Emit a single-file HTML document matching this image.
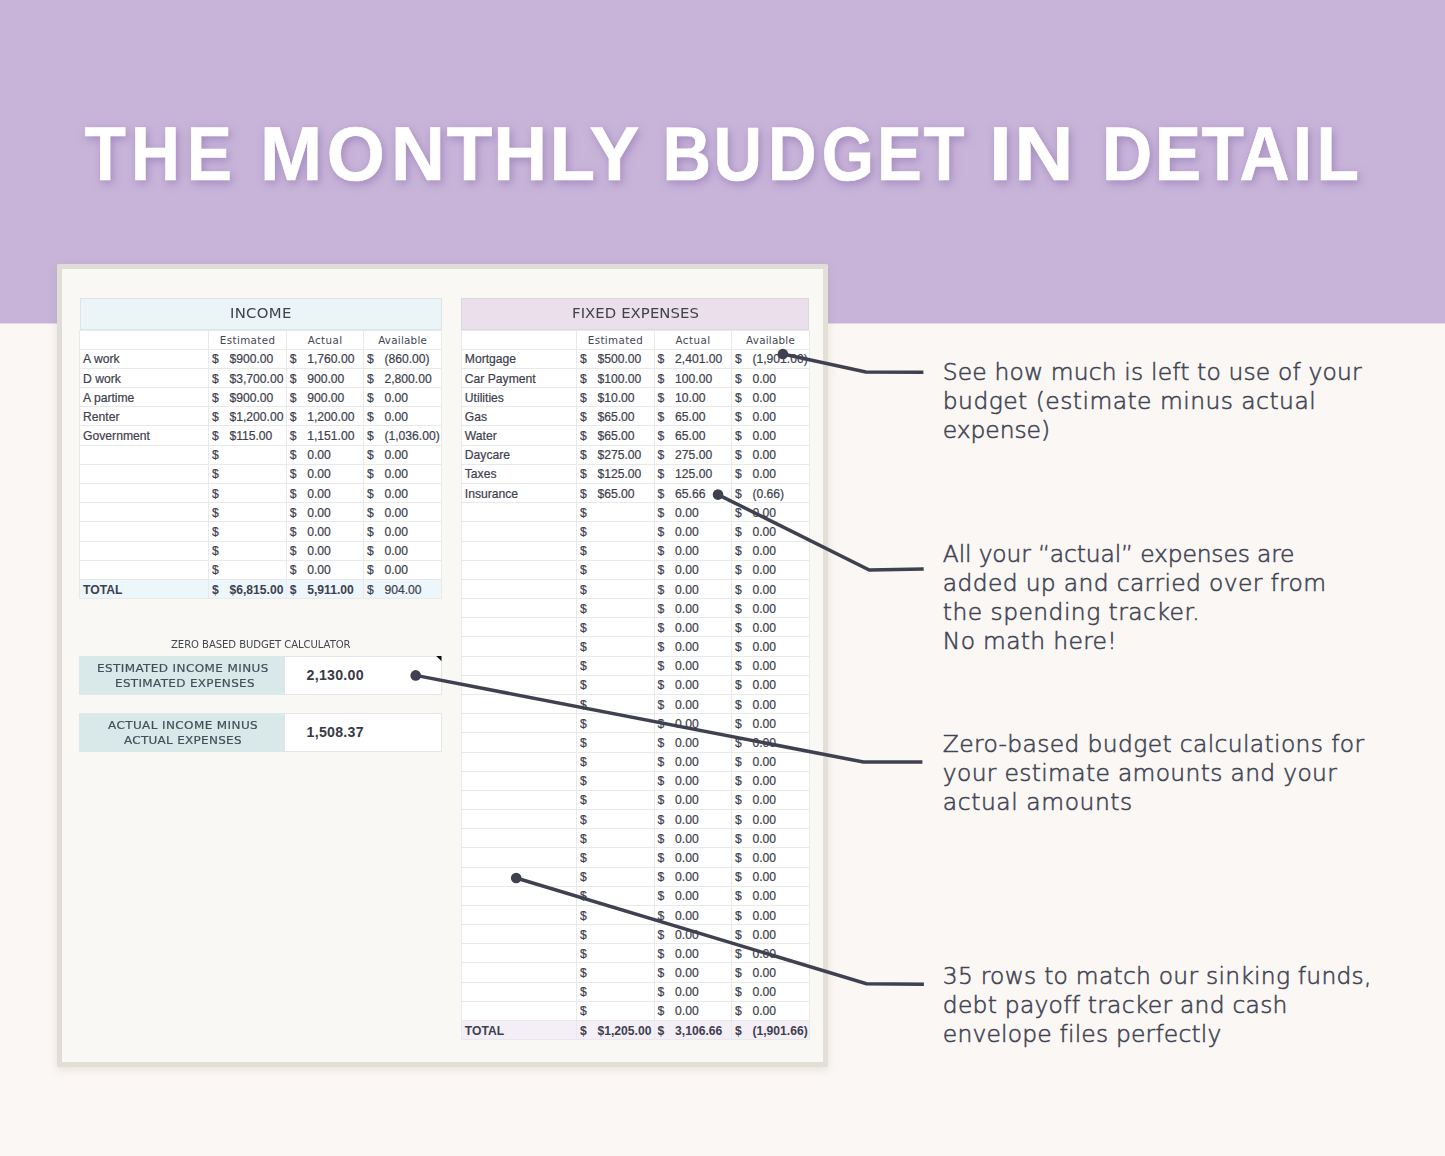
<!DOCTYPE html>
<html lang="en"><head><meta charset="utf-8"><title>The Monthly Budget in Detail</title>
<style>
html,body{margin:0;padding:0}
body{width:1445px;height:1156px;position:relative;overflow:hidden;background:#fbf7f4;font-family:"Liberation Sans",Arial,sans-serif}
h1{margin:0;padding:0;font-size:inherit;font-weight:inherit}
.r{position:absolute;display:block}
.t{position:absolute;white-space:pre;line-height:1em;margin:0;padding:0}
.c{font-size:12.15px;color:#3e404e;-webkit-text-stroke:0.2px #3e404e}
.cb{font-size:12.15px;color:#3e404e;font-weight:700}
.dv{font-family:"DejaVu Sans","Liberation Sans",sans-serif}
.n{font-size:23.4px;color:#414453;font-weight:200;-webkit-text-stroke:0.55px #414453}
.ttl{filter:drop-shadow(2px 3px 4px rgba(125,95,165,.5))}
.ttl text{font-family:"Liberation Sans",Arial,sans-serif}
.card{box-sizing:border-box;background:#f9f8f4;border:solid #e0ddd6;border-width:5.4px 5.8px 5px 5.5px;border-right-color:#e3e0d8;border-bottom-color:#e1ded6;border-radius:2px;box-shadow:0 3px 10px rgba(120,110,90,.15)}
</style></head><body>
<header class="hero">
<div class="r" style="left:0.00px;top:0.00px;width:1445.00px;height:323.00px;background:#c8b4d9;"></div>
<div class="r" style="left:0.00px;top:323.00px;width:1445.00px;height:1.00px;background:#e2d6e7;"></div>
<h1>
<svg class="r ttl" style="left:0;top:0" width="1445" height="260" viewBox="0 0 1445 260">
<text transform="scale(0.8912,1)" x="94.87 147.06 209.58" y="180.1" font-size="76.0" font-weight="700" fill="#fff" stroke="#fff" stroke-width="0.7">THE</text>
<text transform="scale(0.9822,1)" x="264.68 332.63 398.01 454.84 502.11 559.57 600.26" y="180.1" font-size="76.0" font-weight="700" fill="#fff" stroke="#fff" stroke-width="0.7">MONTHLY</text>
<text transform="scale(0.8842,1)" x="749.30 807.04 868.71 929.36 991.77 1044.42" y="180.1" font-size="76.0" font-weight="700" fill="#fff" stroke="#fff" stroke-width="0.7">BUDGET</text>
<text transform="scale(1.0804,1)" x="915.43 938.69" y="180.1" font-size="76.0" font-weight="700" fill="#fff" stroke="#fff" stroke-width="0.7">IN</text>
<text transform="scale(0.9147,1)" x="1204.85 1262.48 1313.49 1355.03 1413.35 1439.28" y="180.1" font-size="76.0" font-weight="700" fill="#fff" stroke="#fff" stroke-width="0.7">DETAIL</text>
</svg>
</h1>
</header>
<main class="sheet">
<div class="r card" style="left:56.5px;top:264.0px;width:771.5px;height:803px;"></div>
<section class="tbl income">
<div class="r" style="left:79.50px;top:298.00px;width:362.00px;height:32.00px;background:#ebf4f7;box-shadow:0 0 0 1px rgba(190,200,205,.35) inset;"></div>
<div class="r" style="left:79.50px;top:330.10px;width:362.00px;height:249.31px;background:#ffffff;"></div>
<div class="r" style="left:79.50px;top:579.41px;width:362.00px;height:19.18px;background:#edf6fa;"></div>
<div class="r" style="left:79.50px;top:329.60px;width:362.00px;height:1.00px;background:#e9e9e9;"></div>
<div class="r" style="left:79.50px;top:348.78px;width:362.00px;height:1.00px;background:#e9e9e9;"></div>
<div class="r" style="left:79.50px;top:367.96px;width:362.00px;height:1.00px;background:#e9e9e9;"></div>
<div class="r" style="left:79.50px;top:387.13px;width:362.00px;height:1.00px;background:#e9e9e9;"></div>
<div class="r" style="left:79.50px;top:406.31px;width:362.00px;height:1.00px;background:#e9e9e9;"></div>
<div class="r" style="left:79.50px;top:425.49px;width:362.00px;height:1.00px;background:#e9e9e9;"></div>
<div class="r" style="left:79.50px;top:444.67px;width:362.00px;height:1.00px;background:#e9e9e9;"></div>
<div class="r" style="left:79.50px;top:463.85px;width:362.00px;height:1.00px;background:#e9e9e9;"></div>
<div class="r" style="left:79.50px;top:483.02px;width:362.00px;height:1.00px;background:#e9e9e9;"></div>
<div class="r" style="left:79.50px;top:502.20px;width:362.00px;height:1.00px;background:#e9e9e9;"></div>
<div class="r" style="left:79.50px;top:521.38px;width:362.00px;height:1.00px;background:#e9e9e9;"></div>
<div class="r" style="left:79.50px;top:540.56px;width:362.00px;height:1.00px;background:#e9e9e9;"></div>
<div class="r" style="left:79.50px;top:559.74px;width:362.00px;height:1.00px;background:#e9e9e9;"></div>
<div class="r" style="left:79.50px;top:578.91px;width:362.00px;height:1.00px;background:#e9e9e9;"></div>
<div class="r" style="left:79.50px;top:598.09px;width:362.00px;height:1.00px;background:#e9e9e9;"></div>
<div class="r" style="left:79.00px;top:330.10px;width:1.00px;height:268.49px;background:#e9e9e9;"></div>
<div class="r" style="left:208.00px;top:330.10px;width:1.00px;height:268.49px;background:#e9e9e9;"></div>
<div class="r" style="left:285.80px;top:330.10px;width:1.00px;height:268.49px;background:#e9e9e9;"></div>
<div class="r" style="left:363.00px;top:330.10px;width:1.00px;height:268.49px;background:#e9e9e9;"></div>
<div class="r" style="left:441.00px;top:330.10px;width:1.00px;height:268.49px;background:#e9e9e9;"></div>
<div class="t dv" id="t0" style="top:306.99px;font-size:13.9px;color:#41424f;letter-spacing:0.280px;transform:scaleX(1.07);transform-origin:0 0;left:229.85px;">INCOME</div>
<div class="t dv" id="t1" style="top:335.29px;font-size:10.3px;color:#444652;letter-spacing:0.384px;left:219.85px;">Estimated</div>
<div class="t dv" id="t2" style="top:335.29px;font-size:10.3px;color:#444652;letter-spacing:0.447px;left:307.65px;">Actual</div>
<div class="t dv" id="t3" style="top:335.29px;font-size:10.3px;color:#444652;letter-spacing:0.261px;left:378.15px;">Available</div>
<div class="t c" id="t4" style="top:353.39px;left:83.10px;">A work</div>
<div class="t c" id="t5" style="top:353.39px;left:211.90px;">$</div>
<div class="t c" id="t6" style="top:353.39px;left:229.40px;">$900.00</div>
<div class="t c" id="t7" style="top:353.39px;left:289.70px;">$</div>
<div class="t c" id="t8" style="top:353.39px;left:307.20px;">1,760.00</div>
<div class="t c" id="t9" style="top:353.39px;left:366.90px;">$</div>
<div class="t c" id="t10" style="top:353.39px;left:384.40px;">(860.00)</div>
<div class="t c" id="t11" style="top:372.57px;left:83.10px;">D work</div>
<div class="t c" id="t12" style="top:372.57px;left:211.90px;">$</div>
<div class="t c" id="t13" style="top:372.57px;left:229.40px;">$3,700.00</div>
<div class="t c" id="t14" style="top:372.57px;left:289.70px;">$</div>
<div class="t c" id="t15" style="top:372.57px;left:307.20px;">900.00</div>
<div class="t c" id="t16" style="top:372.57px;left:366.90px;">$</div>
<div class="t c" id="t17" style="top:372.57px;left:384.40px;">2,800.00</div>
<div class="t c" id="t18" style="top:391.75px;left:83.10px;">A partime</div>
<div class="t c" id="t19" style="top:391.75px;left:211.90px;">$</div>
<div class="t c" id="t20" style="top:391.75px;left:229.40px;">$900.00</div>
<div class="t c" id="t21" style="top:391.75px;left:289.70px;">$</div>
<div class="t c" id="t22" style="top:391.75px;left:307.20px;">900.00</div>
<div class="t c" id="t23" style="top:391.75px;left:366.90px;">$</div>
<div class="t c" id="t24" style="top:391.75px;left:384.40px;">0.00</div>
<div class="t c" id="t25" style="top:410.93px;left:83.10px;">Renter</div>
<div class="t c" id="t26" style="top:410.93px;left:211.90px;">$</div>
<div class="t c" id="t27" style="top:410.93px;left:229.40px;">$1,200.00</div>
<div class="t c" id="t28" style="top:410.93px;left:289.70px;">$</div>
<div class="t c" id="t29" style="top:410.93px;left:307.20px;">1,200.00</div>
<div class="t c" id="t30" style="top:410.93px;left:366.90px;">$</div>
<div class="t c" id="t31" style="top:410.93px;left:384.40px;">0.00</div>
<div class="t c" id="t32" style="top:430.11px;left:83.10px;">Government</div>
<div class="t c" id="t33" style="top:430.11px;left:211.90px;">$</div>
<div class="t c" id="t34" style="top:430.11px;left:229.40px;">$115.00</div>
<div class="t c" id="t35" style="top:430.11px;left:289.70px;">$</div>
<div class="t c" id="t36" style="top:430.11px;left:307.20px;">1,151.00</div>
<div class="t c" id="t37" style="top:430.11px;left:366.90px;">$</div>
<div class="t c" id="t38" style="top:430.11px;left:384.40px;">(1,036.00)</div>
<div class="t c" id="t39" style="top:449.28px;left:211.90px;">$</div>
<div class="t c" id="t40" style="top:449.28px;left:289.70px;">$</div>
<div class="t c" id="t41" style="top:449.28px;left:307.20px;">0.00</div>
<div class="t c" id="t42" style="top:449.28px;left:366.90px;">$</div>
<div class="t c" id="t43" style="top:449.28px;left:384.40px;">0.00</div>
<div class="t c" id="t44" style="top:468.46px;left:211.90px;">$</div>
<div class="t c" id="t45" style="top:468.46px;left:289.70px;">$</div>
<div class="t c" id="t46" style="top:468.46px;left:307.20px;">0.00</div>
<div class="t c" id="t47" style="top:468.46px;left:366.90px;">$</div>
<div class="t c" id="t48" style="top:468.46px;left:384.40px;">0.00</div>
<div class="t c" id="t49" style="top:487.64px;left:211.90px;">$</div>
<div class="t c" id="t50" style="top:487.64px;left:289.70px;">$</div>
<div class="t c" id="t51" style="top:487.64px;left:307.20px;">0.00</div>
<div class="t c" id="t52" style="top:487.64px;left:366.90px;">$</div>
<div class="t c" id="t53" style="top:487.64px;left:384.40px;">0.00</div>
<div class="t c" id="t54" style="top:506.82px;left:211.90px;">$</div>
<div class="t c" id="t55" style="top:506.82px;left:289.70px;">$</div>
<div class="t c" id="t56" style="top:506.82px;left:307.20px;">0.00</div>
<div class="t c" id="t57" style="top:506.82px;left:366.90px;">$</div>
<div class="t c" id="t58" style="top:506.82px;left:384.40px;">0.00</div>
<div class="t c" id="t59" style="top:526.00px;left:211.90px;">$</div>
<div class="t c" id="t60" style="top:526.00px;left:289.70px;">$</div>
<div class="t c" id="t61" style="top:526.00px;left:307.20px;">0.00</div>
<div class="t c" id="t62" style="top:526.00px;left:366.90px;">$</div>
<div class="t c" id="t63" style="top:526.00px;left:384.40px;">0.00</div>
<div class="t c" id="t64" style="top:545.17px;left:211.90px;">$</div>
<div class="t c" id="t65" style="top:545.17px;left:289.70px;">$</div>
<div class="t c" id="t66" style="top:545.17px;left:307.20px;">0.00</div>
<div class="t c" id="t67" style="top:545.17px;left:366.90px;">$</div>
<div class="t c" id="t68" style="top:545.17px;left:384.40px;">0.00</div>
<div class="t c" id="t69" style="top:564.35px;left:211.90px;">$</div>
<div class="t c" id="t70" style="top:564.35px;left:289.70px;">$</div>
<div class="t c" id="t71" style="top:564.35px;left:307.20px;">0.00</div>
<div class="t c" id="t72" style="top:564.35px;left:366.90px;">$</div>
<div class="t c" id="t73" style="top:564.35px;left:384.40px;">0.00</div>
<div class="t cb" id="t74" style="top:583.53px;left:83.10px;">TOTAL</div>
<div class="t cb" id="t75" style="top:583.53px;left:211.90px;">$</div>
<div class="t cb" id="t76" style="top:583.53px;left:229.40px;">$6,815.00</div>
<div class="t cb" id="t77" style="top:583.53px;left:289.70px;">$</div>
<div class="t cb" id="t78" style="top:583.53px;left:307.20px;">5,911.00</div>
<div class="t c" id="t79" style="top:583.53px;left:366.90px;">$</div>
<div class="t c" id="t80" style="top:583.53px;left:384.40px;">904.00</div>
</section>
<section class="tbl fixed">
<div class="r" style="left:461.20px;top:298.00px;width:348.20px;height:32.00px;background:#ebdfec;box-shadow:0 0 0 1px rgba(190,200,205,.35) inset;"></div>
<div class="r" style="left:461.20px;top:330.10px;width:348.20px;height:690.41px;background:#ffffff;"></div>
<div class="r" style="left:461.20px;top:1020.51px;width:348.20px;height:19.18px;background:#f4eef6;"></div>
<div class="r" style="left:461.20px;top:329.60px;width:348.20px;height:1.00px;background:#e9e9e9;"></div>
<div class="r" style="left:461.20px;top:348.78px;width:348.20px;height:1.00px;background:#e9e9e9;"></div>
<div class="r" style="left:461.20px;top:367.96px;width:348.20px;height:1.00px;background:#e9e9e9;"></div>
<div class="r" style="left:461.20px;top:387.13px;width:348.20px;height:1.00px;background:#e9e9e9;"></div>
<div class="r" style="left:461.20px;top:406.31px;width:348.20px;height:1.00px;background:#e9e9e9;"></div>
<div class="r" style="left:461.20px;top:425.49px;width:348.20px;height:1.00px;background:#e9e9e9;"></div>
<div class="r" style="left:461.20px;top:444.67px;width:348.20px;height:1.00px;background:#e9e9e9;"></div>
<div class="r" style="left:461.20px;top:463.85px;width:348.20px;height:1.00px;background:#e9e9e9;"></div>
<div class="r" style="left:461.20px;top:483.02px;width:348.20px;height:1.00px;background:#e9e9e9;"></div>
<div class="r" style="left:461.20px;top:502.20px;width:348.20px;height:1.00px;background:#e9e9e9;"></div>
<div class="r" style="left:461.20px;top:521.38px;width:348.20px;height:1.00px;background:#e9e9e9;"></div>
<div class="r" style="left:461.20px;top:540.56px;width:348.20px;height:1.00px;background:#e9e9e9;"></div>
<div class="r" style="left:461.20px;top:559.74px;width:348.20px;height:1.00px;background:#e9e9e9;"></div>
<div class="r" style="left:461.20px;top:578.91px;width:348.20px;height:1.00px;background:#e9e9e9;"></div>
<div class="r" style="left:461.20px;top:598.09px;width:348.20px;height:1.00px;background:#e9e9e9;"></div>
<div class="r" style="left:461.20px;top:617.27px;width:348.20px;height:1.00px;background:#e9e9e9;"></div>
<div class="r" style="left:461.20px;top:636.45px;width:348.20px;height:1.00px;background:#e9e9e9;"></div>
<div class="r" style="left:461.20px;top:655.63px;width:348.20px;height:1.00px;background:#e9e9e9;"></div>
<div class="r" style="left:461.20px;top:674.80px;width:348.20px;height:1.00px;background:#e9e9e9;"></div>
<div class="r" style="left:461.20px;top:693.98px;width:348.20px;height:1.00px;background:#e9e9e9;"></div>
<div class="r" style="left:461.20px;top:713.16px;width:348.20px;height:1.00px;background:#e9e9e9;"></div>
<div class="r" style="left:461.20px;top:732.34px;width:348.20px;height:1.00px;background:#e9e9e9;"></div>
<div class="r" style="left:461.20px;top:751.52px;width:348.20px;height:1.00px;background:#e9e9e9;"></div>
<div class="r" style="left:461.20px;top:770.69px;width:348.20px;height:1.00px;background:#e9e9e9;"></div>
<div class="r" style="left:461.20px;top:789.87px;width:348.20px;height:1.00px;background:#e9e9e9;"></div>
<div class="r" style="left:461.20px;top:809.05px;width:348.20px;height:1.00px;background:#e9e9e9;"></div>
<div class="r" style="left:461.20px;top:828.23px;width:348.20px;height:1.00px;background:#e9e9e9;"></div>
<div class="r" style="left:461.20px;top:847.41px;width:348.20px;height:1.00px;background:#e9e9e9;"></div>
<div class="r" style="left:461.20px;top:866.58px;width:348.20px;height:1.00px;background:#e9e9e9;"></div>
<div class="r" style="left:461.20px;top:885.76px;width:348.20px;height:1.00px;background:#e9e9e9;"></div>
<div class="r" style="left:461.20px;top:904.94px;width:348.20px;height:1.00px;background:#e9e9e9;"></div>
<div class="r" style="left:461.20px;top:924.12px;width:348.20px;height:1.00px;background:#e9e9e9;"></div>
<div class="r" style="left:461.20px;top:943.30px;width:348.20px;height:1.00px;background:#e9e9e9;"></div>
<div class="r" style="left:461.20px;top:962.47px;width:348.20px;height:1.00px;background:#e9e9e9;"></div>
<div class="r" style="left:461.20px;top:981.65px;width:348.20px;height:1.00px;background:#e9e9e9;"></div>
<div class="r" style="left:461.20px;top:1000.83px;width:348.20px;height:1.00px;background:#e9e9e9;"></div>
<div class="r" style="left:461.20px;top:1020.01px;width:348.20px;height:1.00px;background:#e9e9e9;"></div>
<div class="r" style="left:461.20px;top:1039.19px;width:348.20px;height:1.00px;background:#e9e9e9;"></div>
<div class="r" style="left:460.70px;top:330.10px;width:1.00px;height:709.59px;background:#e9e9e9;"></div>
<div class="r" style="left:576.00px;top:330.10px;width:1.00px;height:709.59px;background:#e9e9e9;"></div>
<div class="r" style="left:653.60px;top:330.10px;width:1.00px;height:709.59px;background:#e9e9e9;"></div>
<div class="r" style="left:731.00px;top:330.10px;width:1.00px;height:709.59px;background:#e9e9e9;"></div>
<div class="r" style="left:808.90px;top:330.10px;width:1.00px;height:709.59px;background:#e9e9e9;"></div>
<div class="t dv" id="t81" style="top:306.99px;font-size:13.9px;color:#41424f;letter-spacing:0.072px;transform:scaleX(1.07);transform-origin:0 0;left:571.80px;">FIXED EXPENSES</div>
<div class="t dv" id="t82" style="top:335.29px;font-size:10.3px;color:#444652;letter-spacing:0.384px;left:587.75px;">Estimated</div>
<div class="t dv" id="t83" style="top:335.29px;font-size:10.3px;color:#444652;letter-spacing:0.447px;left:675.55px;">Actual</div>
<div class="t dv" id="t84" style="top:335.29px;font-size:10.3px;color:#444652;letter-spacing:0.261px;left:746.10px;">Available</div>
<div class="t c" id="t85" style="top:353.39px;left:464.80px;">Mortgage</div>
<div class="t c" id="t86" style="top:353.39px;left:579.90px;">$</div>
<div class="t c" id="t87" style="top:353.39px;left:597.40px;">$500.00</div>
<div class="t c" id="t88" style="top:353.39px;left:657.50px;">$</div>
<div class="t c" id="t89" style="top:353.39px;left:675.00px;">2,401.00</div>
<div class="t c" id="t90" style="top:353.39px;left:734.90px;">$</div>
<div class="t c" id="t91" style="top:353.39px;left:752.40px;">(1,901.00)</div>
<div class="t c" id="t92" style="top:372.57px;left:464.80px;">Car Payment</div>
<div class="t c" id="t93" style="top:372.57px;left:579.90px;">$</div>
<div class="t c" id="t94" style="top:372.57px;left:597.40px;">$100.00</div>
<div class="t c" id="t95" style="top:372.57px;left:657.50px;">$</div>
<div class="t c" id="t96" style="top:372.57px;left:675.00px;">100.00</div>
<div class="t c" id="t97" style="top:372.57px;left:734.90px;">$</div>
<div class="t c" id="t98" style="top:372.57px;left:752.40px;">0.00</div>
<div class="t c" id="t99" style="top:391.75px;left:464.80px;">Utilities</div>
<div class="t c" id="t100" style="top:391.75px;left:579.90px;">$</div>
<div class="t c" id="t101" style="top:391.75px;left:597.40px;">$10.00</div>
<div class="t c" id="t102" style="top:391.75px;left:657.50px;">$</div>
<div class="t c" id="t103" style="top:391.75px;left:675.00px;">10.00</div>
<div class="t c" id="t104" style="top:391.75px;left:734.90px;">$</div>
<div class="t c" id="t105" style="top:391.75px;left:752.40px;">0.00</div>
<div class="t c" id="t106" style="top:410.93px;left:464.80px;">Gas</div>
<div class="t c" id="t107" style="top:410.93px;left:579.90px;">$</div>
<div class="t c" id="t108" style="top:410.93px;left:597.40px;">$65.00</div>
<div class="t c" id="t109" style="top:410.93px;left:657.50px;">$</div>
<div class="t c" id="t110" style="top:410.93px;left:675.00px;">65.00</div>
<div class="t c" id="t111" style="top:410.93px;left:734.90px;">$</div>
<div class="t c" id="t112" style="top:410.93px;left:752.40px;">0.00</div>
<div class="t c" id="t113" style="top:430.11px;left:464.80px;">Water</div>
<div class="t c" id="t114" style="top:430.11px;left:579.90px;">$</div>
<div class="t c" id="t115" style="top:430.11px;left:597.40px;">$65.00</div>
<div class="t c" id="t116" style="top:430.11px;left:657.50px;">$</div>
<div class="t c" id="t117" style="top:430.11px;left:675.00px;">65.00</div>
<div class="t c" id="t118" style="top:430.11px;left:734.90px;">$</div>
<div class="t c" id="t119" style="top:430.11px;left:752.40px;">0.00</div>
<div class="t c" id="t120" style="top:449.28px;left:464.80px;">Daycare</div>
<div class="t c" id="t121" style="top:449.28px;left:579.90px;">$</div>
<div class="t c" id="t122" style="top:449.28px;left:597.40px;">$275.00</div>
<div class="t c" id="t123" style="top:449.28px;left:657.50px;">$</div>
<div class="t c" id="t124" style="top:449.28px;left:675.00px;">275.00</div>
<div class="t c" id="t125" style="top:449.28px;left:734.90px;">$</div>
<div class="t c" id="t126" style="top:449.28px;left:752.40px;">0.00</div>
<div class="t c" id="t127" style="top:468.46px;left:464.80px;">Taxes</div>
<div class="t c" id="t128" style="top:468.46px;left:579.90px;">$</div>
<div class="t c" id="t129" style="top:468.46px;left:597.40px;">$125.00</div>
<div class="t c" id="t130" style="top:468.46px;left:657.50px;">$</div>
<div class="t c" id="t131" style="top:468.46px;left:675.00px;">125.00</div>
<div class="t c" id="t132" style="top:468.46px;left:734.90px;">$</div>
<div class="t c" id="t133" style="top:468.46px;left:752.40px;">0.00</div>
<div class="t c" id="t134" style="top:487.64px;left:464.80px;">Insurance</div>
<div class="t c" id="t135" style="top:487.64px;left:579.90px;">$</div>
<div class="t c" id="t136" style="top:487.64px;left:597.40px;">$65.00</div>
<div class="t c" id="t137" style="top:487.64px;left:657.50px;">$</div>
<div class="t c" id="t138" style="top:487.64px;left:675.00px;">65.66</div>
<div class="t c" id="t139" style="top:487.64px;left:734.90px;">$</div>
<div class="t c" id="t140" style="top:487.64px;left:752.40px;">(0.66)</div>
<div class="t c" id="t141" style="top:506.82px;left:579.90px;">$</div>
<div class="t c" id="t142" style="top:506.82px;left:657.50px;">$</div>
<div class="t c" id="t143" style="top:506.82px;left:675.00px;">0.00</div>
<div class="t c" id="t144" style="top:506.82px;left:734.90px;">$</div>
<div class="t c" id="t145" style="top:506.82px;left:752.40px;">0.00</div>
<div class="t c" id="t146" style="top:526.00px;left:579.90px;">$</div>
<div class="t c" id="t147" style="top:526.00px;left:657.50px;">$</div>
<div class="t c" id="t148" style="top:526.00px;left:675.00px;">0.00</div>
<div class="t c" id="t149" style="top:526.00px;left:734.90px;">$</div>
<div class="t c" id="t150" style="top:526.00px;left:752.40px;">0.00</div>
<div class="t c" id="t151" style="top:545.17px;left:579.90px;">$</div>
<div class="t c" id="t152" style="top:545.17px;left:657.50px;">$</div>
<div class="t c" id="t153" style="top:545.17px;left:675.00px;">0.00</div>
<div class="t c" id="t154" style="top:545.17px;left:734.90px;">$</div>
<div class="t c" id="t155" style="top:545.17px;left:752.40px;">0.00</div>
<div class="t c" id="t156" style="top:564.35px;left:579.90px;">$</div>
<div class="t c" id="t157" style="top:564.35px;left:657.50px;">$</div>
<div class="t c" id="t158" style="top:564.35px;left:675.00px;">0.00</div>
<div class="t c" id="t159" style="top:564.35px;left:734.90px;">$</div>
<div class="t c" id="t160" style="top:564.35px;left:752.40px;">0.00</div>
<div class="t c" id="t161" style="top:583.53px;left:579.90px;">$</div>
<div class="t c" id="t162" style="top:583.53px;left:657.50px;">$</div>
<div class="t c" id="t163" style="top:583.53px;left:675.00px;">0.00</div>
<div class="t c" id="t164" style="top:583.53px;left:734.90px;">$</div>
<div class="t c" id="t165" style="top:583.53px;left:752.40px;">0.00</div>
<div class="t c" id="t166" style="top:602.71px;left:579.90px;">$</div>
<div class="t c" id="t167" style="top:602.71px;left:657.50px;">$</div>
<div class="t c" id="t168" style="top:602.71px;left:675.00px;">0.00</div>
<div class="t c" id="t169" style="top:602.71px;left:734.90px;">$</div>
<div class="t c" id="t170" style="top:602.71px;left:752.40px;">0.00</div>
<div class="t c" id="t171" style="top:621.89px;left:579.90px;">$</div>
<div class="t c" id="t172" style="top:621.89px;left:657.50px;">$</div>
<div class="t c" id="t173" style="top:621.89px;left:675.00px;">0.00</div>
<div class="t c" id="t174" style="top:621.89px;left:734.90px;">$</div>
<div class="t c" id="t175" style="top:621.89px;left:752.40px;">0.00</div>
<div class="t c" id="t176" style="top:641.06px;left:579.90px;">$</div>
<div class="t c" id="t177" style="top:641.06px;left:657.50px;">$</div>
<div class="t c" id="t178" style="top:641.06px;left:675.00px;">0.00</div>
<div class="t c" id="t179" style="top:641.06px;left:734.90px;">$</div>
<div class="t c" id="t180" style="top:641.06px;left:752.40px;">0.00</div>
<div class="t c" id="t181" style="top:660.24px;left:579.90px;">$</div>
<div class="t c" id="t182" style="top:660.24px;left:657.50px;">$</div>
<div class="t c" id="t183" style="top:660.24px;left:675.00px;">0.00</div>
<div class="t c" id="t184" style="top:660.24px;left:734.90px;">$</div>
<div class="t c" id="t185" style="top:660.24px;left:752.40px;">0.00</div>
<div class="t c" id="t186" style="top:679.42px;left:579.90px;">$</div>
<div class="t c" id="t187" style="top:679.42px;left:657.50px;">$</div>
<div class="t c" id="t188" style="top:679.42px;left:675.00px;">0.00</div>
<div class="t c" id="t189" style="top:679.42px;left:734.90px;">$</div>
<div class="t c" id="t190" style="top:679.42px;left:752.40px;">0.00</div>
<div class="t c" id="t191" style="top:698.60px;left:579.90px;">$</div>
<div class="t c" id="t192" style="top:698.60px;left:657.50px;">$</div>
<div class="t c" id="t193" style="top:698.60px;left:675.00px;">0.00</div>
<div class="t c" id="t194" style="top:698.60px;left:734.90px;">$</div>
<div class="t c" id="t195" style="top:698.60px;left:752.40px;">0.00</div>
<div class="t c" id="t196" style="top:717.78px;left:579.90px;">$</div>
<div class="t c" id="t197" style="top:717.78px;left:657.50px;">$</div>
<div class="t c" id="t198" style="top:717.78px;left:675.00px;">0.00</div>
<div class="t c" id="t199" style="top:717.78px;left:734.90px;">$</div>
<div class="t c" id="t200" style="top:717.78px;left:752.40px;">0.00</div>
<div class="t c" id="t201" style="top:736.95px;left:579.90px;">$</div>
<div class="t c" id="t202" style="top:736.95px;left:657.50px;">$</div>
<div class="t c" id="t203" style="top:736.95px;left:675.00px;">0.00</div>
<div class="t c" id="t204" style="top:736.95px;left:734.90px;">$</div>
<div class="t c" id="t205" style="top:736.95px;left:752.40px;">0.00</div>
<div class="t c" id="t206" style="top:756.13px;left:579.90px;">$</div>
<div class="t c" id="t207" style="top:756.13px;left:657.50px;">$</div>
<div class="t c" id="t208" style="top:756.13px;left:675.00px;">0.00</div>
<div class="t c" id="t209" style="top:756.13px;left:734.90px;">$</div>
<div class="t c" id="t210" style="top:756.13px;left:752.40px;">0.00</div>
<div class="t c" id="t211" style="top:775.31px;left:579.90px;">$</div>
<div class="t c" id="t212" style="top:775.31px;left:657.50px;">$</div>
<div class="t c" id="t213" style="top:775.31px;left:675.00px;">0.00</div>
<div class="t c" id="t214" style="top:775.31px;left:734.90px;">$</div>
<div class="t c" id="t215" style="top:775.31px;left:752.40px;">0.00</div>
<div class="t c" id="t216" style="top:794.49px;left:579.90px;">$</div>
<div class="t c" id="t217" style="top:794.49px;left:657.50px;">$</div>
<div class="t c" id="t218" style="top:794.49px;left:675.00px;">0.00</div>
<div class="t c" id="t219" style="top:794.49px;left:734.90px;">$</div>
<div class="t c" id="t220" style="top:794.49px;left:752.40px;">0.00</div>
<div class="t c" id="t221" style="top:813.67px;left:579.90px;">$</div>
<div class="t c" id="t222" style="top:813.67px;left:657.50px;">$</div>
<div class="t c" id="t223" style="top:813.67px;left:675.00px;">0.00</div>
<div class="t c" id="t224" style="top:813.67px;left:734.90px;">$</div>
<div class="t c" id="t225" style="top:813.67px;left:752.40px;">0.00</div>
<div class="t c" id="t226" style="top:832.84px;left:579.90px;">$</div>
<div class="t c" id="t227" style="top:832.84px;left:657.50px;">$</div>
<div class="t c" id="t228" style="top:832.84px;left:675.00px;">0.00</div>
<div class="t c" id="t229" style="top:832.84px;left:734.90px;">$</div>
<div class="t c" id="t230" style="top:832.84px;left:752.40px;">0.00</div>
<div class="t c" id="t231" style="top:852.02px;left:579.90px;">$</div>
<div class="t c" id="t232" style="top:852.02px;left:657.50px;">$</div>
<div class="t c" id="t233" style="top:852.02px;left:675.00px;">0.00</div>
<div class="t c" id="t234" style="top:852.02px;left:734.90px;">$</div>
<div class="t c" id="t235" style="top:852.02px;left:752.40px;">0.00</div>
<div class="t c" id="t236" style="top:871.20px;left:579.90px;">$</div>
<div class="t c" id="t237" style="top:871.20px;left:657.50px;">$</div>
<div class="t c" id="t238" style="top:871.20px;left:675.00px;">0.00</div>
<div class="t c" id="t239" style="top:871.20px;left:734.90px;">$</div>
<div class="t c" id="t240" style="top:871.20px;left:752.40px;">0.00</div>
<div class="t c" id="t241" style="top:890.38px;left:579.90px;">$</div>
<div class="t c" id="t242" style="top:890.38px;left:657.50px;">$</div>
<div class="t c" id="t243" style="top:890.38px;left:675.00px;">0.00</div>
<div class="t c" id="t244" style="top:890.38px;left:734.90px;">$</div>
<div class="t c" id="t245" style="top:890.38px;left:752.40px;">0.00</div>
<div class="t c" id="t246" style="top:909.56px;left:579.90px;">$</div>
<div class="t c" id="t247" style="top:909.56px;left:657.50px;">$</div>
<div class="t c" id="t248" style="top:909.56px;left:675.00px;">0.00</div>
<div class="t c" id="t249" style="top:909.56px;left:734.90px;">$</div>
<div class="t c" id="t250" style="top:909.56px;left:752.40px;">0.00</div>
<div class="t c" id="t251" style="top:928.73px;left:579.90px;">$</div>
<div class="t c" id="t252" style="top:928.73px;left:657.50px;">$</div>
<div class="t c" id="t253" style="top:928.73px;left:675.00px;">0.00</div>
<div class="t c" id="t254" style="top:928.73px;left:734.90px;">$</div>
<div class="t c" id="t255" style="top:928.73px;left:752.40px;">0.00</div>
<div class="t c" id="t256" style="top:947.91px;left:579.90px;">$</div>
<div class="t c" id="t257" style="top:947.91px;left:657.50px;">$</div>
<div class="t c" id="t258" style="top:947.91px;left:675.00px;">0.00</div>
<div class="t c" id="t259" style="top:947.91px;left:734.90px;">$</div>
<div class="t c" id="t260" style="top:947.91px;left:752.40px;">0.00</div>
<div class="t c" id="t261" style="top:967.09px;left:579.90px;">$</div>
<div class="t c" id="t262" style="top:967.09px;left:657.50px;">$</div>
<div class="t c" id="t263" style="top:967.09px;left:675.00px;">0.00</div>
<div class="t c" id="t264" style="top:967.09px;left:734.90px;">$</div>
<div class="t c" id="t265" style="top:967.09px;left:752.40px;">0.00</div>
<div class="t c" id="t266" style="top:986.27px;left:579.90px;">$</div>
<div class="t c" id="t267" style="top:986.27px;left:657.50px;">$</div>
<div class="t c" id="t268" style="top:986.27px;left:675.00px;">0.00</div>
<div class="t c" id="t269" style="top:986.27px;left:734.90px;">$</div>
<div class="t c" id="t270" style="top:986.27px;left:752.40px;">0.00</div>
<div class="t c" id="t271" style="top:1005.45px;left:579.90px;">$</div>
<div class="t c" id="t272" style="top:1005.45px;left:657.50px;">$</div>
<div class="t c" id="t273" style="top:1005.45px;left:675.00px;">0.00</div>
<div class="t c" id="t274" style="top:1005.45px;left:734.90px;">$</div>
<div class="t c" id="t275" style="top:1005.45px;left:752.40px;">0.00</div>
<div class="t cb" id="t276" style="top:1024.62px;left:464.80px;">TOTAL</div>
<div class="t cb" id="t277" style="top:1024.62px;left:579.90px;">$</div>
<div class="t cb" id="t278" style="top:1024.62px;left:597.40px;">$1,205.00</div>
<div class="t cb" id="t279" style="top:1024.62px;left:657.50px;">$</div>
<div class="t cb" id="t280" style="top:1024.62px;left:675.00px;">3,106.66</div>
<div class="t cb" id="t281" style="top:1024.62px;left:734.90px;">$</div>
<div class="t cb" id="t282" style="top:1024.62px;left:752.40px;">(1,901.66)</div>
</section>
<section class="calc">
<div class="r" style="left:79.30px;top:655.60px;width:362.30px;height:39.10px;background:#ffffff;box-shadow:0 0 0 1px #e6e6e6 inset;"></div>
<div class="r" style="left:79.30px;top:655.60px;width:205.50px;height:39.10px;background:#d9e9ea;"></div>
<div class="r" style="left:79.30px;top:712.90px;width:362.30px;height:38.90px;background:#ffffff;box-shadow:0 0 0 1px #e6e6e6 inset;"></div>
<div class="r" style="left:79.30px;top:712.90px;width:205.50px;height:38.90px;background:#d9e9ea;"></div>
<div class="t dv" id="t283" style="top:640.18px;font-size:9.6px;color:#444652;letter-spacing:-0.066px;transform:scaleX(1.05);transform-origin:0 0;left:170.60px;">ZERO BASED BUDGET CALCULATOR</div>
<div class="t dv" id="t284" style="top:663.21px;font-size:11.1px;color:#434e58;-webkit-text-stroke:0.2px #434e58;letter-spacing:0.376px;transform:scaleX(1.08);transform-origin:0 0;left:97.10px;">ESTIMATED INCOME MINUS</div>
<div class="t dv" id="t285" style="top:677.91px;font-size:11.1px;color:#434e58;-webkit-text-stroke:0.2px #434e58;letter-spacing:0.311px;transform:scaleX(1.08);transform-origin:0 0;left:114.60px;">ESTIMATED EXPENSES</div>
<div class="t" id="t286" style="top:667.98px;font-size:14.2px;color:#383a48;font-weight:700;letter-spacing:0.252px;left:306.60px;">2,130.00</div>
<div class="t dv" id="t287" style="top:720.31px;font-size:11.1px;color:#434e58;-webkit-text-stroke:0.2px #434e58;letter-spacing:0.379px;transform:scaleX(1.08);transform-origin:0 0;left:107.70px;">ACTUAL INCOME MINUS</div>
<div class="t dv" id="t288" style="top:735.01px;font-size:11.1px;color:#434e58;-webkit-text-stroke:0.2px #434e58;letter-spacing:0.274px;transform:scaleX(1.08);transform-origin:0 0;left:123.70px;">ACTUAL EXPENSES</div>
<div class="t" id="t289" style="top:725.38px;font-size:14.2px;color:#383a48;font-weight:700;letter-spacing:0.252px;left:306.60px;">1,508.37</div>
</section></main>
<aside class="notes">
<div class="t dv n" id="t290" style="top:360.50px;letter-spacing:0.160px;left:942.80px;">See how much is left to use of your</div>
<div class="t dv n" id="t291" style="top:389.55px;letter-spacing:0.474px;left:942.80px;">budget (estimate minus actual</div>
<div class="t dv n" id="t292" style="top:418.60px;letter-spacing:-0.042px;left:942.80px;">expense)</div>
<div class="t dv n" id="t293" style="top:542.50px;letter-spacing:-0.151px;left:942.80px;">All your “actual” expenses are</div>
<div class="t dv n" id="t294" style="top:571.55px;letter-spacing:0.355px;left:942.80px;">added up and carried over from</div>
<div class="t dv n" id="t295" style="top:600.60px;letter-spacing:0.465px;left:942.80px;">the spending tracker.</div>
<div class="t dv n" id="t296" style="top:629.65px;letter-spacing:0.334px;left:942.80px;">No math here!</div>
<div class="t dv n" id="t297" style="top:732.60px;letter-spacing:0.369px;left:942.80px;">Zero-based budget calculations for</div>
<div class="t dv n" id="t298" style="top:761.65px;letter-spacing:0.338px;left:942.80px;">your estimate amounts and your</div>
<div class="t dv n" id="t299" style="top:790.70px;letter-spacing:0.584px;left:942.80px;">actual amounts</div>
<div class="t dv n" id="t300" style="top:964.90px;letter-spacing:0.253px;left:942.80px;">35 rows to match our sinking funds,</div>
<div class="t dv n" id="t301" style="top:993.95px;letter-spacing:0.257px;left:942.80px;">debt payoff tracker and cash</div>
<div class="t dv n" id="t302" style="top:1023.00px;letter-spacing:0.199px;left:942.80px;">envelope files perfectly</div>
<svg class="r" style="left:0;top:0" width="1445" height="1156" viewBox="0 0 1445 1156">
<polyline points="782.9,354.0 865.8,372.0 923.4,372.2" fill="none" stroke="#3f4150" stroke-width="3.5" stroke-linejoin="miter"/>
<circle cx="782.9" cy="354.0" r="5.3" fill="#3f4150"/>
<polyline points="718.0,494.6 869.3,570.0 923.7,569.0" fill="none" stroke="#3f4150" stroke-width="3.5" stroke-linejoin="miter"/>
<circle cx="718.0" cy="494.6" r="5.3" fill="#3f4150"/>
<polyline points="415.7,675.4 863.4,762.0 922.4,762.0" fill="none" stroke="#3f4150" stroke-width="3.5" stroke-linejoin="miter"/>
<circle cx="415.7" cy="675.4" r="5.3" fill="#3f4150"/>
<polyline points="516.2,878.0 866.4,983.7 923.9,984.3" fill="none" stroke="#3f4150" stroke-width="3.5" stroke-linejoin="miter"/>
<circle cx="516.2" cy="878.0" r="5.3" fill="#3f4150"/>
<polygon points="436.2,656 441.5,656 441.5,661.3" fill="#111"/>
</svg>
</aside>
</body></html>
